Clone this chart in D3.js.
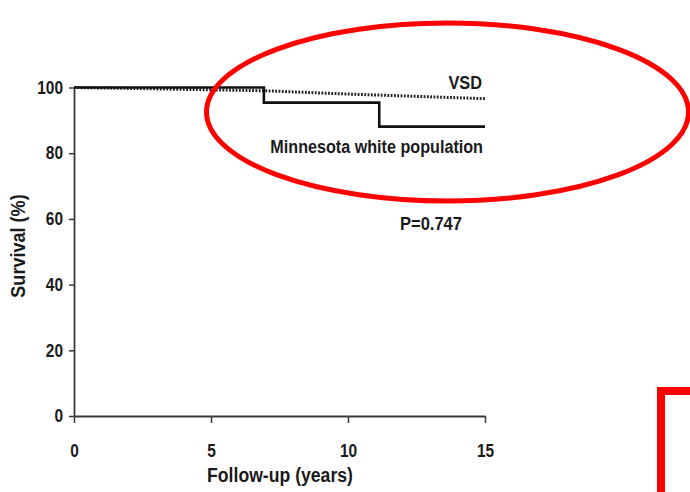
<!DOCTYPE html>
<html>
<head>
<meta charset="utf-8">
<script src="https://cdn.jsdelivr.net/npm/d3@7"></script>
<style>
  html, body { margin: 0; padding: 0; background: #fff; }
  svg { display: block; }
  text { font-family: "Liberation Sans", Arial, sans-serif; font-weight: bold; fill: #1a1a1a; }
</style>
</head>
<body>
<svg id="chart" width="690" height="492"></svg>
<script>
// Follow-up survival: stepped Kaplan-Meier curve vs. smooth expected curve
const stepYears = [0, 6.93, 11.14, 15];
const stepSurvival = [100, 95.4, 88.1, 88.1];

const expectedYears = [0, 5, 7, 10, 15];
const expectedSurvival = [100, 99.3, 99.0, 98.0, 96.6];

const xTicks = [0, 5, 10, 15];
const yTicks = [0, 20, 40, 60, 80, 100];

const seriesLabels = ["VSD", "Minnesota white population"];
const pValueLabel = "P=0.747";
const xTitle = "Follow-up (years)";
const yTitle = "Survival (%)";

// condensed look: regular bold face squeezed horizontally
const SQUEEZE = 0.86;

const svg = d3.select("#chart");

const x = d3.scaleLinear().domain([0, 15]).range([74, 485]);
const y = d3.scaleLinear().domain([0, 100]).range([416, 87.5]);

function label(px, py, txt, size, anchor, rotate) {
  return svg.append("text")
    .attr("transform", `translate(${px},${py})` + (rotate ? ` rotate(${rotate})` : "") + ` scale(${SQUEEZE},1)`)
    .attr("text-anchor", anchor)
    .style("font-size", size + "px")
    .text(txt);
}

function squeezeTicks(g) {
  g.selectAll(".tick text").each(function () {
    const t = d3.select(this);
    const tx = +t.attr("x") || 0;
    const ty = +t.attr("y") || 0;
    t.attr("x", null).attr("y", null)
      .attr("transform", `translate(${tx},${ty}) scale(${SQUEEZE},1)`);
  });
}

// axes
const xAxis = svg.append("g")
  .attr("transform", `translate(0,${y(0)})`)
  .call(d3.axisBottom(x).tickValues(xTicks).tickFormat(d3.format("d"))
    .tickSize(7).tickSizeOuter(0).tickPadding(21));

const yAxis = svg.append("g")
  .attr("transform", `translate(${x(0)},0)`)
  .call(d3.axisLeft(y).tickValues(yTicks).tickFormat(d3.format("d"))
    .tickSize(5).tickSizeOuter(0).tickPadding(6));

[xAxis, yAxis].forEach(g => {
  g.select(".domain").attr("stroke", "#3a3a3a").attr("stroke-width", 1.8);
  g.selectAll(".tick line").attr("stroke", "#3a3a3a").attr("stroke-width", 1.5);
  g.selectAll(".tick text")
    .attr("fill", "#1a1a1a")
    .style("font-family", "'Liberation Sans', Arial, sans-serif")
    .style("font-weight", "bold")
    .style("font-size", "18px");
  squeezeTicks(g);
});

// axis titles
label(280, 482, xTitle, 20.5, "middle");
label(25, 246, yTitle, 21, "middle", -90);

// expected survival (dotted)
const expectedLine = d3.line()
  .x((d, i) => x(expectedYears[i]))
  .y(d => y(d));

svg.append("path")
  .datum(expectedSurvival)
  .attr("d", expectedLine)
  .attr("fill", "none")
  .attr("stroke", "#222")
  .attr("stroke-width", 3)
  .attr("stroke-dasharray", "1.8,1.5");

// observed survival (step)
const stepLine = d3.line()
  .curve(d3.curveStepAfter)
  .x((d, i) => x(stepYears[i]))
  .y(d => y(d));

svg.append("path")
  .datum(stepSurvival)
  .attr("d", stepLine)
  .attr("fill", "none")
  .attr("stroke", "#111")
  .attr("stroke-width", 2.6);

// series labels and test result
label(x(15) - 3, 88.5, seriesLabels[0], 19, "end");
label(x(15) - 2, 152.5, seriesLabels[1], 18.8, "end");
label(400, 230, pValueLabel, 19.2, "start");

// red highlight marks
svg.append("ellipse")
  .attr("cx", 447.5)
  .attr("cy", 112)
  .attr("rx", 241)
  .attr("ry", 89)
  .attr("fill", "none")
  .attr("stroke", "#ff0000")
  .attr("stroke-width", 5);

svg.append("rect")
  .attr("x", 661)
  .attr("y", 391)
  .attr("width", 200)
  .attr("height", 200)
  .attr("fill", "none")
  .attr("stroke", "#ff0000")
  .attr("stroke-width", 8);
</script>
</body>
</html>
